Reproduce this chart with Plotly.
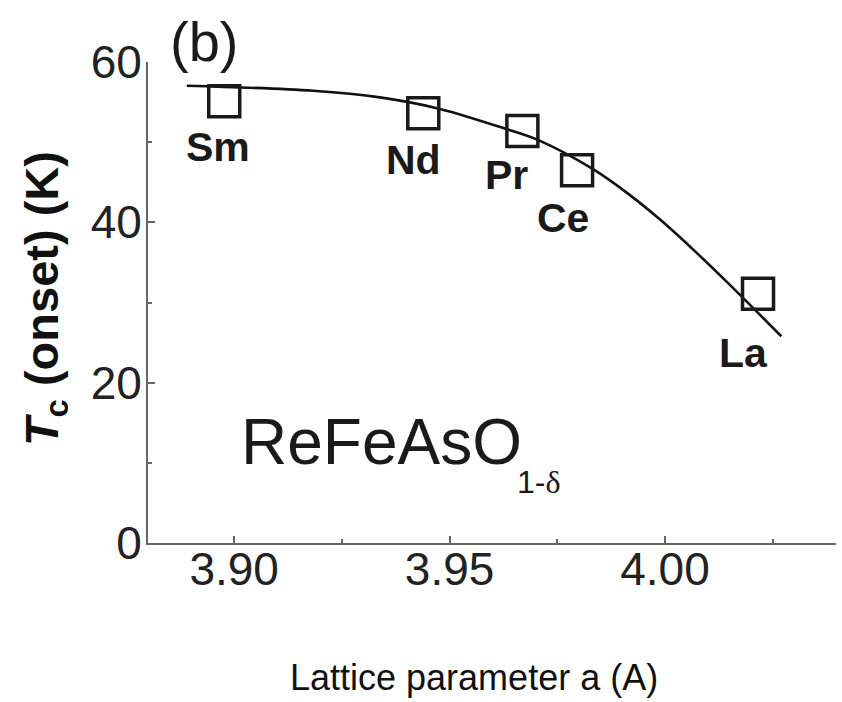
import plotly.graph_objects as go

# Measured onset Tc of ReFeAsO(1-δ) against in-plane lattice parameter a
elements = ["Sm", "Nd", "Pr", "Ce", "La"]
lattice_a = [3.8977, 3.9439, 3.9669, 3.9796, 4.0216]
tc_onset = [55.1, 53.6, 51.4, 46.5, 31.1]

# Guide-to-the-eye trend curve through the series
trend_a = [3.8890, 3.9183, 3.9338, 3.9473, 3.9632, 3.9710, 3.9833,
           3.9911, 3.9988, 4.0065, 4.0143, 4.0270]
trend_tc = [57.04, 56.41, 55.59, 54.21, 51.63, 50.16, 46.63,
            43.71, 40.38, 36.63, 32.60, 25.79]

# Label placement (pixel offsets of each element name from its marker)
label_dx = [-6, -10, -16, -14, -15]
label_dy = [-46, -47, -44, -48, -59]

x_ticks = [3.90, 3.95, 4.00]
y_ticks = [0, 20, 40, 60]

SANS = "Liberation Sans, Arial, sans-serif"
INK = "#1a1a1a"
AXIS = "#666666"

fig = go.Figure()

fig.add_trace(go.Scatter(
    x=trend_a, y=trend_tc, mode="lines",
    line=dict(color="#111111", width=2.6, shape="spline", smoothing=1.0),
    hoverinfo="skip", showlegend=False,
))

fig.add_trace(go.Scatter(
    x=lattice_a, y=tc_onset, mode="markers",
    marker=dict(symbol="square-open", size=31,
                color=INK, line=dict(width=3.5, color=INK)),
    showlegend=False,
))

annotations = []
for name, xa, yt, dx, dy in zip(elements, lattice_a, tc_onset, label_dx, label_dy):
    annotations.append(dict(
        x=xa, y=yt, xref="x", yref="y", text=f"<b>{name}</b>",
        showarrow=False, xshift=dx, yshift=dy,
        font=dict(family=SANS, size=41, color=INK),
    ))

annotations += [
    dict(x=3.9012, y=12.6, xref="x", yref="y", xanchor="left", yanchor="middle",
         text="ReFeAsO", showarrow=False,
         font=dict(family=SANS, size=64, color=INK)),
    dict(x=3.9652, y=7.6, xref="x", yref="y", xanchor="left", yanchor="middle",
         text="1-<span style=\"font-family:'Liberation Serif', serif\">δ</span>",
         showarrow=False,
         font=dict(family=SANS, size=32, color=INK)),
    dict(x=0.0814, y=1.0426, xref="paper", yref="paper", xanchor="center",
         yanchor="middle", text="(b)", showarrow=False,
         font=dict(family=SANS, size=56, color=INK)),
    dict(x=0.474, y=-0.2786, xref="paper", yref="paper", xanchor="center",
         yanchor="middle", text="Lattice parameter a (A)", showarrow=False,
         font=dict(family=SANS, size=36, color="#111111")),
    dict(x=-0.1505, y=0.508, xref="paper", yref="paper", xanchor="center",
         yanchor="middle", textangle=-90,
         text="<b><i>T</i><sub>c</sub> (onset) (K)</b>", showarrow=False,
         font=dict(family=SANS, size=47, color="#111111")),
]

axis_common = dict(
    showline=True, linecolor=AXIS, linewidth=2,
    ticks="inside", ticklen=7, tickwidth=2, tickcolor=AXIS,
    showgrid=False, zeroline=False, mirror=False,
    tickfont=dict(family=SANS, size=46, color="#222222"),
)

fig.update_xaxes(
    range=[3.88, 4.0397], tickvals=x_ticks,
    ticktext=[f"{v:.2f}" for v in x_ticks], ticklabelstandoff=-15,
    minor=dict(dtick=0.025, tick0=3.875, ticks="inside", ticklen=4,
               tickwidth=2, tickcolor=AXIS, showgrid=False),
    **axis_common,
)
fig.update_yaxes(
    range=[0, 60], tickvals=y_ticks, ticklabelstandoff=-5,
    minor=dict(dtick=10, tick0=0, ticks="inside", ticklen=4,
               tickwidth=2, tickcolor=AXIS, showgrid=False),
    **axis_common,
)

fig.update_layout(
    width=842, height=702,
    margin=dict(l=148, r=6, t=62, b=159),
    paper_bgcolor="white", plot_bgcolor="white",
    annotations=annotations,
)

fig.write_html("out.html")
